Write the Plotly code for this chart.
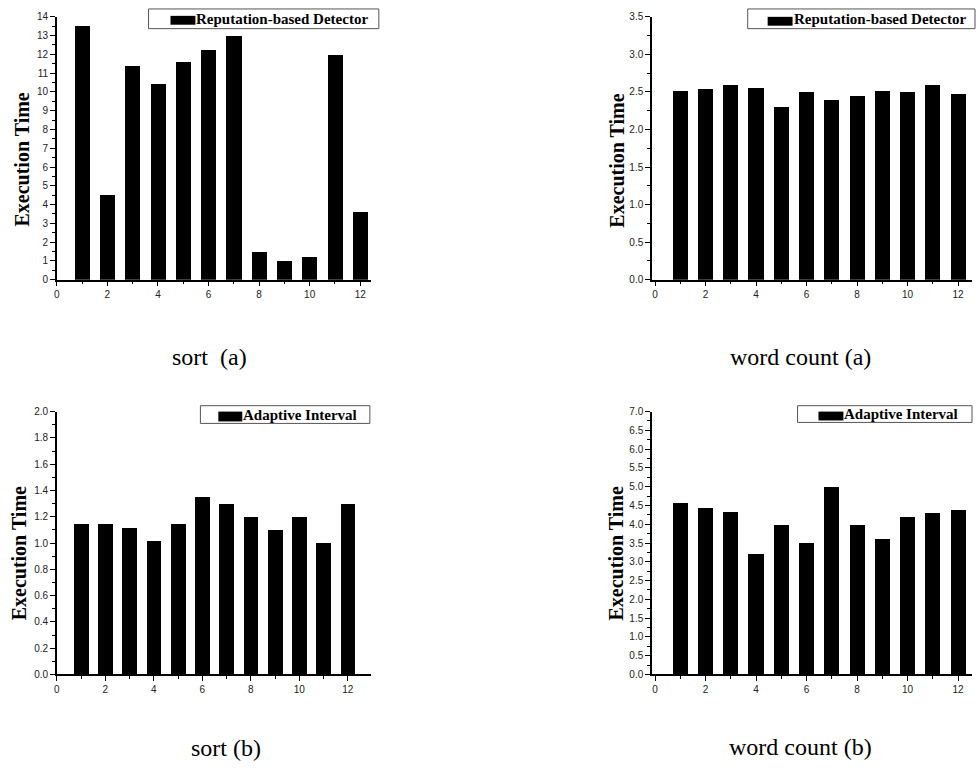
import plotly.graph_objects as go

W, H = 977, 773

# ---------------- data ----------------
runs = list(range(1, 13))
sort_reputation = [13.5, 4.5, 11.4, 10.45, 11.6, 12.25, 13.0, 1.5, 1.0, 1.2, 12.0, 3.6]
wordcount_reputation = [2.52, 2.54, 2.60, 2.56, 2.30, 2.50, 2.40, 2.45, 2.51, 2.50, 2.60, 2.48]
sort_adaptive = [1.15, 1.15, 1.12, 1.02, 1.15, 1.35, 1.30, 1.20, 1.10, 1.20, 1.00, 1.30]
wordcount_adaptive = [4.58, 4.44, 4.33, 3.22, 4.00, 3.51, 5.01, 4.00, 3.61, 4.21, 4.31, 4.40]
x_ticks = [0, 2, 4, 6, 8, 10, 12]
series_names = ["Reputation-based Detector", "Adaptive Interval"]
captions = ["sort\u00a0 (a)", "word count (a)", "sort (b)", "word count (b)"]
y_title = "Execution Time"

SERIF = "Liberation Serif, Times New Roman, serif"
SANS = "Liberation Sans, Arial, sans-serif"


def px(x):
    return min(max(x / W, 0), 1)


def py(y):
    return min(max(1 - y / H, 0), 1)


panels = [
    dict(vals=sort_reputation, name=series_names[0], cap=captions[0],
         xd=(54, 369), yd=(11, 278), xr=[0, 12.42], yr=[0, 14], dt=1, mdt=0.5, fmt="d",
         title=(19, 156), box=(146, 3, 377, 23), sym=(168, 10, 193, 19), capxy=(207, 357)),
    dict(vals=wordcount_reputation, name=series_names[0], cap=captions[1],
         xd=(651, 972), yd=(11, 278), xr=[-0.12, 12.55], yr=[0, 3.5], dt=0.5, mdt=0.25, fmt=".1f",
         title=(615, 157), box=(747, 3, 975, 23), sym=(767, 11, 792, 20), capxy=(800, 357)),
    dict(vals=sort_adaptive, name=series_names[1], cap=captions[2],
         xd=(54, 369), yd=(412, 679), xr=[0, 12.95], yr=[0, 2.0], dt=0.2, mdt=0.1, fmt=".1f",
         title=(16, 556), box=(198, 406, 368, 424), sym=(216, 412, 240, 422), capxy=(224, 754)),
    dict(vals=wordcount_adaptive, name=series_names[1], cap=captions[3],
         xd=(651, 972), yd=(412, 679), xr=[-0.12, 12.55], yr=[0, 7.0], dt=0.5, mdt=0.25, fmt=".1f",
         title=(615, 556), box=(797, 406, 972, 423), sym=(818, 412, 843, 421), capxy=(800, 753)),
]

fig = go.Figure()
shapes = []
annotations = []
layout = {}

for i, p in enumerate(panels):
    n = "" if i == 0 else str(i + 1)
    xa, ya = "x" + n, "y" + n
    fig.add_trace(go.Bar(x=runs, y=p["vals"], width=0.6, marker=dict(color="black", line=dict(width=0)),
                         xaxis=xa, yaxis=ya, showlegend=False, name=p["name"]))
    common = dict(showline=True, linecolor="black", linewidth=1.5, ticks="outside", ticklen=5,
                  tickwidth=1, tickcolor="black", showgrid=False, zeroline=False, mirror=False,
                  tickfont=dict(family=SANS, size=10, color="#222"))
    layout["xaxis" + n] = dict(domain=[px(p["xd"][0]), px(p["xd"][1])], range=p["xr"], anchor=ya,
                               tickmode="array", tickvals=x_ticks,
                               minor=dict(tickvals=[1, 3, 5, 7, 9, 11], ticklen=3, tickcolor="black", ticks="outside"),
                               **common)
    layout["yaxis" + n] = dict(domain=[py(p["yd"][1]), py(p["yd"][0])], range=p["yr"], anchor=xa,
                               dtick=p["dt"], tick0=0, tickformat=p["fmt"],
                               minor=dict(dtick=p["mdt"], ticklen=3, tickcolor="black", ticks="outside"),
                               **common)
    # y title
    annotations.append(dict(text="<b>" + y_title + "</b>", x=px(p["title"][0]), y=py(p["title"][1]),
                            xref="paper", yref="paper", xanchor="center", yanchor="middle", textangle=-90,
                            showarrow=False, font=dict(family=SERIF, size=20, color="black")))
    # legend box
    bx0, by0, bx1, by1 = p["box"]
    shapes.append(dict(type="rect", xref="paper", yref="paper", x0=px(bx0), x1=px(bx1), y0=py(by1), y1=py(by0),
                       line=dict(color="#555", width=1), fillcolor="white"))
    sx0, sy0, sx1, sy1 = p["sym"]
    shapes.append(dict(type="rect", xref="paper", yref="paper", x0=px(sx0), x1=px(sx1), y0=py(sy1), y1=py(sy0),
                       line=dict(width=0), fillcolor="black"))
    annotations.append(dict(text="<b>" + p["name"] + "</b>", x=px(sx1 - 1), y=py((by0 + by1) / 2),
                            xref="paper", yref="paper", xanchor="left", yanchor="middle", showarrow=False,
                            font=dict(family=SERIF, size=15, color="black")))
    # caption
    annotations.append(dict(text=p["cap"], x=px(p["capxy"][0]), y=py(p["capxy"][1]),
                            xref="paper", yref="paper", xanchor="center", yanchor="middle", showarrow=False,
                            font=dict(family=SERIF, size=24, color="black")))

fig.update_layout(width=W, height=H, margin=dict(l=0, r=0, t=0, b=0), autosize=False,
                  plot_bgcolor="white", paper_bgcolor="white", shapes=shapes, annotations=annotations,
                  bargap=0, **layout)

fig.write_html("out.html", config={"displayModeBar": False},
               post_script="document.body.style.margin='0';document.body.style.overflow='hidden';")
